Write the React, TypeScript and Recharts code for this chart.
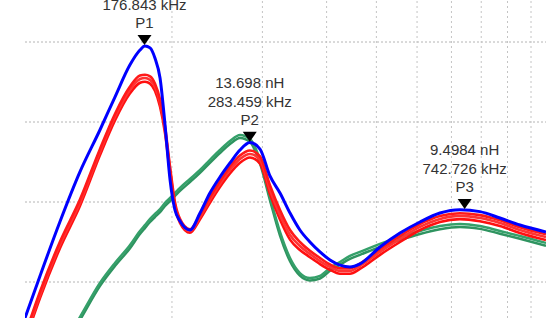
import React from "react"
import { ComposedChart, Line, Scatter, XAxis, YAxis, ReferenceLine } from "recharts"

// frequency (kHz), log axis
const freqs = [
  103.5, 110.7, 121.0, 132.4, 144.8, 154.9, 165.6, 173.3, 177.2, 181.3, 185.3, 189.6, 193.9, 198.3, 202.7,
  207.3, 216.8, 226.8, 237.1, 248.0, 259.4, 271.3, 283.7, 296.8, 310.3, 324.6, 339.5, 354.9, 371.2, 388.3,
  406.1, 424.7, 444.2, 464.5, 508.2, 555.8, 607.9, 664.9, 727.2, 795.4, 870.0, 951.7, 1069.5,
]

// inductance (nH)
const blue = [
  2.75, 5.38, 8.75, 11.88, 14.5, 16.56, 18.56, 19.5, 19.75, 19.63, 19.0, 17.75, 14.81, 11.38, 9.5,
  8.81, 8.25, 9.31, 10.56, 11.56, 12.44, 13.25, 13.72, 13.31, 11.63, 10.56, 9.31, 8.25, 7.5, 6.88,
  6.38, 6.06, 5.94, 6.13, 7.19, 8.06, 8.75, 9.31, 9.52, 9.4, 9.0, 8.56, 8.13,
]
const red1 = [
  1.7, 4.4, 7.5, 10.15, 13.3, 15.5, 17.2, 17.9, 17.95, 17.85, 17.4, 16.4, 14.7, 12.2, 10.0,
  8.95, 8.3, 9.2, 10.3, 11.3, 12.2, 12.9, 13.22, 12.85, 11.05, 9.5, 8.25, 7.5, 6.95, 6.5,
  6.1, 5.85, 5.85, 6.15, 7.05, 7.88, 8.62, 9.12, 9.3, 9.18, 8.86, 8.42, 7.98,
]
const red2 = [
  1.5, 4.19, 7.31, 9.94, 13.13, 15.31, 17.0, 17.69, 17.75, 17.63, 17.19, 16.19, 14.5, 12.0, 9.81,
  8.81, 8.19, 9.06, 10.13, 11.13, 12.0, 12.69, 13.0, 12.63, 10.75, 9.19, 7.94, 7.25, 6.75, 6.31,
  5.94, 5.69, 5.69, 6.0, 6.88, 7.69, 8.44, 8.94, 9.13, 9.0, 8.69, 8.25, 7.81,
]
const red3 = [
  1.3, 4.0, 7.1, 9.75, 12.92, 15.1, 16.78, 17.45, 17.52, 17.4, 16.95, 15.95, 14.3, 11.8, 9.65,
  8.7, 8.08, 8.92, 9.95, 10.93, 11.78, 12.45, 12.78, 12.4, 10.5, 8.9, 7.65, 7.0, 6.55, 6.12,
  5.76, 5.52, 5.52, 5.82, 6.7, 7.5, 8.25, 8.75, 8.93, 8.8, 8.5, 8.06, 7.62,
]
const green1 = [
  -3.3, -1.45, 0.75, 2.81, 4.94, 6.19, 7.3, 8.19, 8.56, 8.94, 9.25, 9.56, 9.94, 10.25, 10.56,
  10.88, 11.44, 12.0, 12.63, 13.25, 13.81, 14.19, 13.94, 12.63, 10.31, 8.13, 6.5, 5.56, 5.25, 5.38,
  5.88, 6.25, 6.63, 6.88, 7.38, 7.81, 8.19, 8.5, 8.63, 8.5, 8.19, 7.88, 7.44,
]
const green2 = [
  -3.5, -1.65, 0.55, 2.62, 4.75, 6.0, 7.1, 8.0, 8.37, 8.75, 9.06, 9.37, 9.75, 10.06, 10.37,
  10.69, 11.25, 11.82, 12.45, 13.06, 13.62, 14.0, 13.75, 12.4, 10.12, 7.9, 6.3, 5.4, 5.1, 5.22,
  5.7, 6.08, 6.45, 6.7, 7.2, 7.62, 8.0, 8.3, 8.44, 8.32, 8.02, 7.7, 7.26,
]

// peak markers
const peakNames = ["P1", "P2", "P3"]
const peakFreqs = [176.843, 283.459, 742.726]
const peakValues = [19.754, 13.698, 9.4984]

const gridFreqs = [200, 300, 400, 500, 600, 700, 800, 900, 1000]
const gridValues = [5, 10, 15, 20]

const data = freqs.map((f, i) => ({
  f,
  blue: blue[i],
  red1: red1[i],
  red2: red2[i],
  red3: red3[i],
  green1: green1[i],
  green2: green2[i],
}))

const peaks = peakNames.map((name, i) => ({ name, f: peakFreqs[i], v: peakValues[i] }))

const font = "'Liberation Sans', Arial, sans-serif"

function PeakMarker(props: any) {
  const { cx, cy, payload } = props
  const t = { x: cx, textAnchor: "middle" as const, fontSize: 15, fill: "#333", fontFamily: font }
  return (
    <g>
      <text {...t} y={cy - 55}>{`${payload.v} nH`}</text>
      <text {...t} y={cy - 36}>{`${payload.f.toFixed(3)} kHz`}</text>
      <text {...t} y={cy - 18}>{payload.name}</text>
      <polygon points={`${cx - 7},${cy - 11} ${cx + 7},${cy - 11} ${cx},${cy - 1}`} fill="#000" />
    </g>
  )
}

export default function App() {
  return (
    <div style={{ position: "absolute", left: 0, top: 0, width: 559, height: 325, background: "#fff", overflow: "hidden" }}>
      <ComposedChart width={559} height={325} data={data} margin={{ top: 0, right: 13, bottom: 7, left: 25 }}>
        <XAxis dataKey="f" type="number" scale="log" domain={[103.5, 1069.5]} allowDataOverflow hide />
        <YAxis type="number" domain={[2.75, 22.625]} allowDataOverflow hide />
        {gridValues.map((v) => (
          <ReferenceLine key={`h${v}`} y={v} stroke="#b4b4b4" strokeDasharray="2 2" />
        ))}
        {gridFreqs.map((f) => (
          <ReferenceLine key={`v${f}`} x={f} stroke="#c4c4c4" strokeDasharray="2 3" />
        ))}
        <Line dataKey="green2" type="monotone" stroke="#2f9460" strokeWidth={2.5} dot={false} activeDot={false} isAnimationActive={false} />
        <Line dataKey="green1" type="monotone" stroke="#35a06a" strokeWidth={2.5} dot={false} activeDot={false} isAnimationActive={false} />
        <Line dataKey="red3" type="monotone" stroke="#ff1010" strokeWidth={2.6} dot={false} activeDot={false} isAnimationActive={false} />
        <Line dataKey="red2" type="monotone" stroke="#f33" strokeWidth={2.6} dot={false} activeDot={false} isAnimationActive={false} />
        <Line dataKey="red1" type="monotone" stroke="#ff1a1a" strokeWidth={2.6} dot={false} activeDot={false} isAnimationActive={false} />
        <Line dataKey="blue" type="monotone" stroke="#0000ff" strokeWidth={3} dot={false} activeDot={false} isAnimationActive={false} />
        <Scatter data={peaks} dataKey="v" shape={(p: any) => <PeakMarker {...p} />} isAnimationActive={false} />
      </ComposedChart>
    </div>
  )
}
